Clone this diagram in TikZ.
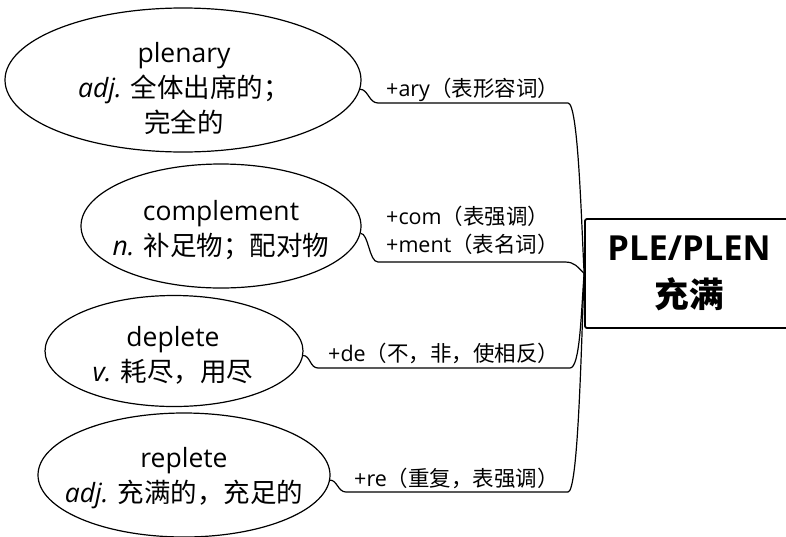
\documentclass[tikz,border=0pt]{standalone}
\usepackage{fontspec}
\setmainfont{Open Sans}
\newfontfamily\cjk{Noto Sans CJK SC}
\usetikzlibrary{shapes.geometric}
\newcommand{\pos}[1]{{\itshape #1}}
\newcommand{\zh}[1]{{\cjk #1}}
\begin{document}
\begin{tikzpicture}[x=1pt,y=-1pt,
  bubble/.style={ellipse, draw, line width=1.2pt, inner sep=0pt},
  wordtext/.style={align=center, inner sep=0pt, font=\fontsize{26.5}{35}\selectfont},
  affix/.style={anchor=west, align=left, inner sep=0pt, font=\fontsize{21.5}{28}\selectfont},
  link/.style={line width=1.2pt},
  rootbox/.style={draw, line width=1.8pt, rounded corners=2pt, inner sep=0pt, align=center,
    minimum width=208pt, minimum height=109pt, font=\fontsize{34.5}{47}\bfseries\selectfont}]
\useasboundingbox (0,0) rectangle (786,536);
\clip (0,0) rectangle (786,536);

% root box
\node[rootbox] (box) at (689,273.5) {PLE/PLEN\\\zh{充满}};

% ellipses
\node[bubble, minimum width=356pt, minimum height=144pt] (e1) at (183,80) {};
\node[wordtext] (t1) at (184,89) {plenary\\\pos{adj.} \zh{全体出席的；}\\\zh{完全的}};

\node[bubble, minimum width=280pt, minimum height=124pt] (e2) at (221,226) {};
\node[wordtext] (t2) at (221,230) {complement\\\pos{n.} \zh{补足物；配对物}};

\node[bubble, minimum width=258pt, minimum height=111pt] (e3) at (174,351) {};
\node[wordtext] (t3) at (173,355) {deplete\\\pos{v.} \zh{耗尽，用尽}};

\node[bubble, minimum width=292pt, minimum height=124pt] (e4) at (184,475) {};
\node[wordtext] (t4) at (184,478) {replete\\\pos{adj.} \zh{充满的，充足的}};

% connector corner coordinates
\coordinate (a1) at (378,103); \coordinate (b1) at (568,103);
\coordinate (a2) at (378,262); \coordinate (b2) at (565,262);
\coordinate (a3) at (318,368); \coordinate (b3) at (570,368);
\coordinate (a4) at (346,492); \coordinate (b4) at (568,492);

\draw[link] (e1.-3) .. controls +(8,0) and +(-9,0) .. (a1) -- (b1)
  .. controls +(10,0) and +(-3,-60) .. (box.west);
\draw[link] (e2.-3) .. controls +(8,0) and +(-9,0) .. (a2) -- (b2)
  .. controls +(10,0) and +(-6,-6) .. (box.west);
\draw[link] (e3.-2) .. controls +(7,0) and +(-8,0) .. (a3) -- (b3)
  .. controls +(10,0) and +(-3,40) .. (box.west);
\draw[link] (e4.-2) .. controls +(7,0) and +(-8,0) .. (a4) -- (b4)
  .. controls +(10,0) and +(-3,80) .. (box.west);

% affix labels
\node[affix] (l1) at (386,90) {+ary\zh{（表形容词）}};
\node[affix] (l2) at (386,230) {+com\zh{（表强调）}\\+ment\zh{（表名词）}};
\node[affix] (l3) at (328,353) {+de\zh{（不，非，使相反）}};
\node[affix] (l4) at (354,478) {+re\zh{（重复，表强调）}};
\end{tikzpicture}
\end{document}
